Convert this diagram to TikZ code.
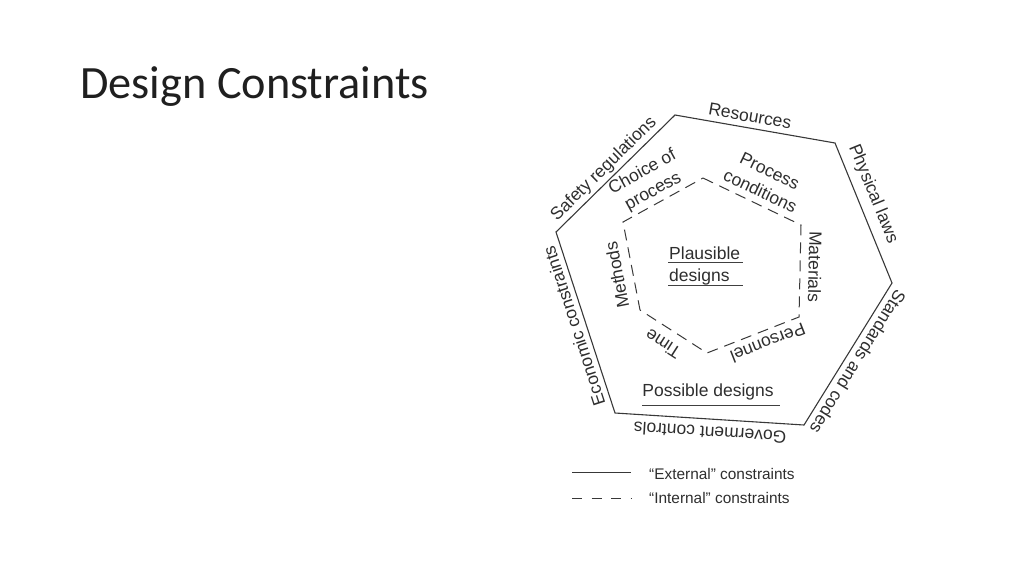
\documentclass[tikz,border=0pt]{standalone}
\usepackage{fontspec}
\setmainfont{Liberation Sans}
\newfontfamily\titlefont{Carlito}
\begin{document}
\begin{tikzpicture}[x=1pt,y=-1pt,
  outer/.style={draw=black!78,line width=1.1pt,line join=miter},
  inner/.style={draw=black!78,line width=1pt,dash pattern=on 11pt off 7pt},
  lab/.style={text=black!82,font=\fontsize{17.5}{22}\selectfont,inner sep=0pt,align=center},
  leg/.style={text=black!82,font=\fontsize{15.4}{16}\selectfont,inner sep=0pt,anchor=west},
  uline/.style={draw=black!75,line width=1pt}]
\useasboundingbox (0,0) rectangle (1024,576);
\node[anchor=base west,inner sep=0pt,font=\titlefont\fontsize{46.3}{48}\selectfont,text=black!88] (title) at (80,98) {Design Constraints};
% outer hexagon
\coordinate (O1) at (675,115);
\coordinate (O2) at (835,143);
\coordinate (O3) at (892,283);
\coordinate (O4) at (804,425);
\coordinate (O5) at (615,413);
\coordinate (O6) at (556,232);
\draw[outer] (O1) -- (O2) -- (O3) -- (O4) -- (O5) -- (O6) -- cycle;
% inner hexagon
\coordinate (I1) at (703,178);
\coordinate (I2) at (801,225);
\coordinate (I3) at (799,317);
\coordinate (I4) at (707,353);
\coordinate (I5) at (640,310);
\coordinate (I6) at (623,222);
\draw[inner] (I1) -- (I2) -- (I3) -- (I4) -- (I5) -- (I6) -- cycle;
% outer labels
\node[lab,rotate=-9.9] (res) at (750,116) {Resources};
\node[lab,rotate=-67.8] (phys) at (873,194) {Physical laws};
\node[lab,rotate=-121.8] (std) at (858,362) {Standards and codes};
\node[lab,rotate=176.4] (gov) at (710,433) {Goverment controls};
\node[lab,rotate=108] (eco) at (574,326) {Economic constraints};
\node[lab,rotate=44.5] (saf) at (604,169) {Safety regulations};
% inner labels
\node[lab,rotate=28.8] (choice) at (648,182) {Choice of\\process};
\node[lab,rotate=-25.6] (pc) at (765,181) {Process\\conditions};
\node[lab,rotate=-91.2] (mat) at (815,267) {Materials};
\node[lab,rotate=-158.6] (pers) at (768,343) {Personnel};
\node[lab,rotate=147.3] (time) at (663,344) {Time};
\node[lab,rotate=100.9] (meth) at (617,275) {Methods};
% centre
\node[lab,anchor=base west] (plaus) at (669,259) {Plausible};
\node[lab,anchor=base west] (pdes) at (669,281) {designs};
\draw[uline] (668,262) -- (743,262);
\draw[uline] (668,285) -- (743,285);
\node[lab] (poss) at (708,392) {Possible designs};
\draw[uline] (642,405) -- (780,405);
% legend
\coordinate (L1a) at (572,472);
\coordinate (L1b) at (631,472);
\coordinate (L2a) at (572,498);
\coordinate (L2b) at (632,498);
\draw[outer,line width=1pt] (L1a) -- (L1b);
\draw[draw=black!78,line width=1pt,dash pattern=on 10pt off 9.5pt] (L2a) -- (L2b);
\node[leg] (ext) at (649,474) {“External” constraints};
\node[leg] (int) at (649,498) {“Internal” constraints};
\end{tikzpicture}
\end{document}
